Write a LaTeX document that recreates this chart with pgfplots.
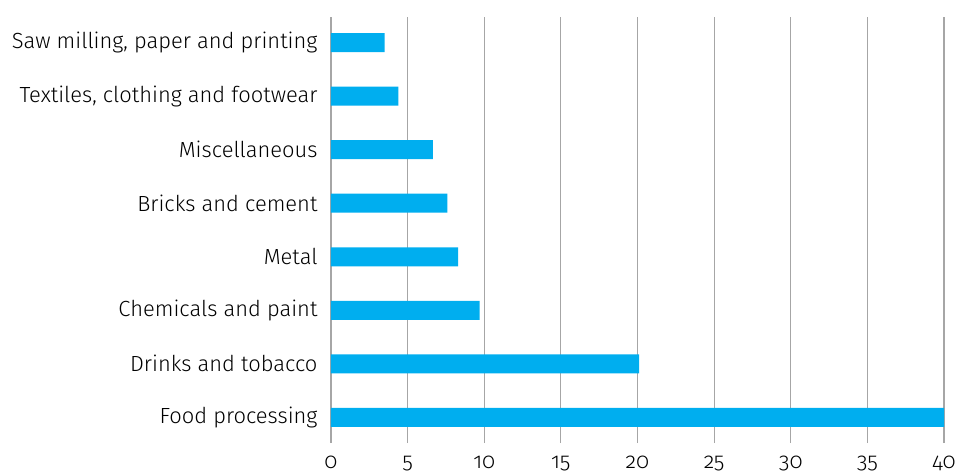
\documentclass[border=0pt]{standalone}
\usepackage{fontspec}
\setmainfont[Numbers=OldStyle]{Fira Sans Light}
\usepackage{pgfplots}
\pgfplotsset{compat=1.18}
\definecolor{barblue}{HTML}{00AEEF}
\definecolor{gridgray}{HTML}{A6A6A6}
\begin{document}
\fontsize{22}{26}\selectfont
\begin{tikzpicture}
\begin{axis}[
  scale only axis,
  width=613bp, height=426bp,
  xbar, bar width=19bp,
  xmin=0, xmax=40,
  ymin=-0.48, ymax=7.48,
  xtick={0,5,...,40},
  ytick={0,...,7},
  yticklabels={Food processing,Drinks and tobacco,Chemicals and paint,Metal,Bricks and cement,Miscellaneous,{Textiles, clothing and footwear},{Saw milling, paper and printing}},
  axis line style={draw=none},
  major tick length=0pt,
  xmajorgrids,
  grid style={gridgray, line width=1.2bp},
  /pgf/number format/assume math mode=true,
  tick label style={font=\fontsize{22}{26}\selectfont},
  yticklabel style={anchor=east, xshift=-6bp},
  xticklabel style={yshift=-6bp},
]
\addplot[fill=barblue, draw=none] coordinates {
(40,0) (20.1,1) (9.7,2) (8.3,3) (7.6,4) (6.65,5) (4.4,6) (3.5,7)};
\coordinate (SW) at (rel axis cs:0,0);
\end{axis}
\pgfresetboundingbox
\path ([shift={(-331bp,-30bp)}]SW) rectangle ([shift={(629bp,443bp)}]SW);
\end{tikzpicture}
\end{document}
